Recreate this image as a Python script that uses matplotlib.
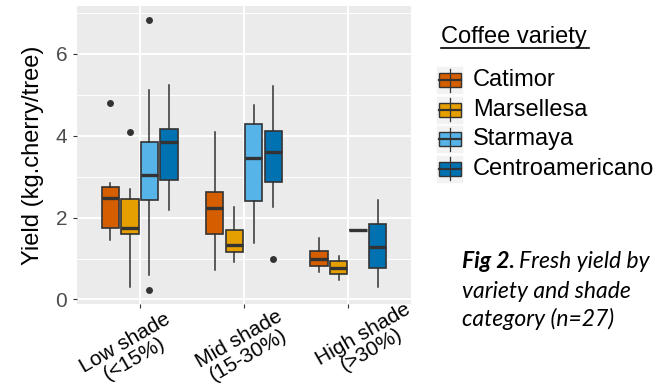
import matplotlib
matplotlib.use("Agg")
import matplotlib.pyplot as plt
import matplotlib.patches as patches
import matplotlib.transforms as mtransforms
import numpy as np

plt.rcParams['font.family'] = ['Liberation Sans', 'DejaVu Sans']

shades = ["Low shade\n(<15%)", "Mid shade\n(15-30%)", "High shade\n(>30%)"]
varieties = ["Catimor", "Marsellesa", "Starmaya", "Centroamericano"]
colors = ["#D55E00", "#E69F00", "#56B4E9", "#0072B2"]

# rows = variety, columns = shade category
whisker_low = [[1.46, 0.73, 0.67], [0.30, 0.91, 0.47], [0.59, 1.37, 1.69], [2.18, 2.26, 0.30]]
q1 = [[1.74, 1.59, 0.82], [1.59, 1.16, 0.61], [2.43, 2.41, 1.69], [2.92, 2.87, 0.78]]
median = [[2.48, 2.23, 1.00], [1.74, 1.32, 0.77], [3.04, 3.45, 1.69], [3.83, 3.60, 1.28]]
q3 = [[2.75, 2.63, 1.19], [2.46, 1.69, 0.93], [3.85, 4.28, 1.69], [4.15, 4.11, 1.85]]
whisker_high = [[2.84, 4.08, 1.50], [2.69, 2.26, 1.07], [5.12, 4.75, 1.69], [5.24, 5.21, 2.43]]
outliers = [[[4.79], [], []], [[4.08], [], []], [[6.83, 0.22], [], []], [[], [0.98], []]]

W, H = 657, 391
fig = plt.figure(figsize=(W / 100, H / 100), dpi=100)
ax = fig.add_axes([77 / W, (H - 304) / H, (411 - 77) / W, (304 - 6) / H])
ax.set_facecolor("#EBEBEB")
for s in ax.spines.values():
    s.set_visible(False)

dodge = 0.1875
box_w = 0.166
edge = "#333333"
for v in range(len(varieties)):
    stats = []
    for c in range(len(shades)):
        stats.append(dict(whislo=whisker_low[v][c], q1=q1[v][c], med=median[v][c],
                          q3=q3[v][c], whishi=whisker_high[v][c], fliers=outliers[v][c]))
    pos = np.arange(1, len(shades) + 1) + (v - 1.5) * dodge
    ax.bxp(stats, positions=pos, widths=box_w, patch_artist=True, showcaps=False,
           manage_ticks=False, zorder=3,
           boxprops=dict(facecolor=colors[v], edgecolor=edge, linewidth=1.2),
           medianprops=dict(color=edge, linewidth=2.4),
           whiskerprops=dict(color=edge, linewidth=1.1),
           flierprops=dict(marker='o', markerfacecolor=edge, markeredgecolor='none', markersize=5))

ax.set_xlim(0.4, 3.6)
ax.set_ylim(-0.11, 7.16)
ax.set_xticks([1, 2, 3])
ax.set_xticklabels([])
ax.set_yticks([0, 2, 4, 6])
ax.set_yticks([1, 3, 5, 7], minor=True)
ax.tick_params(axis='both', which='major', length=3, width=0.8, color=edge,
               labelsize=15, labelcolor="#4D4D4D", pad=4)
ax.tick_params(axis='y', which='minor', length=0)
ax.grid(True, which='major', color='white', linewidth=1.4, zorder=0)
ax.grid(True, which='minor', axis='y', color='white', linewidth=0.7, zorder=0)
ax.set_axisbelow(True)
ax.set_ylabel("Yield (kg.cherry/tree)", fontsize=17, labelpad=8)

# rotated category labels
dx = [-10, 0, 19]
dy = [47, 43, 38]
base = mtransforms.blended_transform_factory(ax.transData, ax.transAxes)
for i, lab in enumerate(shades):
    tr = base + mtransforms.ScaledTranslation(dx[i] / 100, -dy[i] / 100, fig.dpi_scale_trans)
    ax.text(i + 1, 0, lab, transform=tr, ha='center', va='center', rotation=30,
            rotation_mode='anchor', multialignment='center', fontsize=15, color='black',
            linespacing=0.95)

# legend + caption drawn on an overlay in pixel units
ov = fig.add_axes([0, 0, 1, 1])
ov.set_xlim(0, W)
ov.set_ylim(H, 0)
ov.axis('off')
ov.text(441, 43, "Coffee variety", fontsize=17, ha='left', va='baseline')
ov.plot([441, 589], [47.5, 47.5], color='black', lw=1.2)
for i, (name, col) in enumerate(zip(varieties, colors)):
    cy = 80 + i * 29.6
    ov.add_patch(patches.Rectangle((436, cy - 14), 27, 28, facecolor="#F2F2F2", edgecolor='white', lw=0.5))
    ov.plot([450, 450], [cy - 11.5, cy + 11.5], color=edge, lw=0.9)
    ov.add_patch(patches.Rectangle((439, cy - 7), 22, 14, facecolor=col, edgecolor=edge, lw=1.0))
    ov.plot([439, 461], [cy, cy], color=edge, lw=1.6)
    ov.text(473, cy, name, fontsize=17, ha='left', va='center')

cap_font = ['Lato', 'DejaVu Sans']
cap_size = 16.5
fig_lbl = ov.text(462, 268, "Fig 2.", fontsize=cap_size, family=cap_font, style='italic',
                  weight='bold', va='baseline')
fig.canvas.draw()
bb = fig_lbl.get_window_extent()
ov.text(bb.x1 + 4, 268, "Fresh yield by", fontsize=cap_size, family=cap_font, style='italic',
        va='baseline')
ov.text(462, 298, "variety and shade", fontsize=cap_size, family=cap_font, style='italic',
        va='baseline')
ov.text(462, 326, "category (n=27)", fontsize=cap_size, family=cap_font, style='italic',
        va='baseline')

fig.savefig("out.png", dpi=100)
